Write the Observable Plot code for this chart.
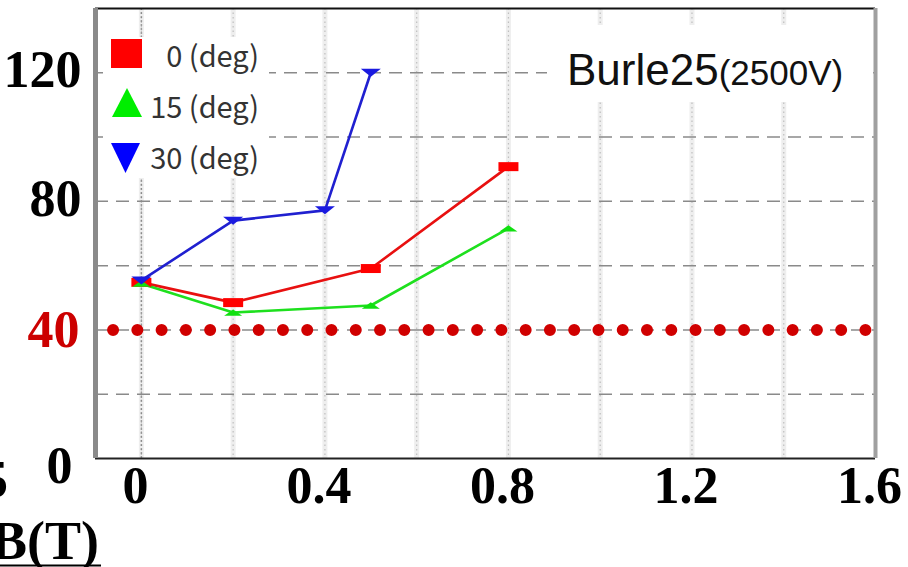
<!DOCTYPE html>
<html>
<head>
<meta charset="utf-8">
<script src="https://cdn.jsdelivr.net/npm/d3@7"></script>
<script src="https://cdn.jsdelivr.net/npm/@observablehq/plot@0.6"></script>
<style>
  html, body { margin: 0; padding: 0; background: #fff; }
  #chart { width: 908px; height: 567px; overflow: hidden; }
</style>
</head>
<body>
<div id="chart"></div>
<script>
// ---- data ----
const bField0 = [0, 0.2, 0.5, 0.8];
const gain0 = [54.8, 48.5, 59.1, 90.8];
const bField15 = [0, 0.2, 0.5, 0.8];
const gain15 = [54.4, 45.4, 47.6, 71.6];
const bField30 = [0, 0.2, 0.4, 0.5];
const gain30 = [55.4, 74.0, 77.2, 120];
const seriesLabels = ["0 (deg)", "15 (deg)", "30 (deg)"];
const thresholdGain = [40];
const xTicks = [0, 0.4, 0.8, 1.2, 1.6];
const yTicksBlack = [80, 120];
const yTicksRed = [40];
const yTickZero = [0];
const xGrid = [0, 0.2, 0.4, 0.6, 0.8, 1.0, 1.2, 1.4];
const yGrid = [20, 40, 60, 80, 100, 120];
const annotation = "Burle25";
const annotationSub = "(2500V)";
const axisLabel = "B(T)";

const toRows = (xs, ys) => xs.map((b, i) => ({b, g: ys[i]}));
const rows0 = toRows(bField0, gain0);
const rows15 = toRows(bField15, gain15);
const rows30 = toRows(bField30, gain30);

// flat marker symbols
const flatSquare = {draw(ctx, size) { const r = Math.sqrt(size / Math.PI); ctx.rect(-r, -0.45 * r, 2 * r, 0.9 * r); }};
const flatUp = {draw(ctx, size) { const r = Math.sqrt(size / Math.PI); ctx.moveTo(-r, 0.35 * r); ctx.lineTo(r, 0.35 * r); ctx.lineTo(0, -0.35 * r); ctx.closePath(); }};
const flatDown = {draw(ctx, size) { const r = Math.sqrt(size / Math.PI); ctx.moveTo(-r, -0.4 * r); ctx.lineTo(r, -0.4 * r); ctx.lineTo(0, 0.4 * r); ctx.closePath(); }};

const serif = "'Liberation Serif', 'Times New Roman', serif";

const svg = Plot.plot({
  width: 908,
  height: 567,
  marginLeft: 95,
  marginRight: 33,
  marginTop: 8,
  marginBottom: 109,
  x: {domain: [-0.1, 1.6]},
  y: {domain: [0, 140]},
  style: {background: "white", overflow: "hidden"},
  marks: [
    // vertical grid (faint blurry dotted look)
    Plot.gridX(xGrid, {stroke: "#eeeeee", strokeOpacity: 1, strokeWidth: 5}),
    Plot.gridX(xGrid, {stroke: "#999", strokeOpacity: 0.55, strokeWidth: 1.2, strokeDasharray: "1.5,3"}),
    Plot.gridX([0], {stroke: "#666", strokeOpacity: 0.6, strokeWidth: 1.5, strokeDasharray: "2,2"}),
    // horizontal dashed grid
    Plot.gridY(yGrid, {stroke: "#8a8a8a", strokeOpacity: 1, strokeWidth: 1.5, strokeDasharray: "13,8"}),
    // frame
    Plot.ruleY([0], {stroke: "#222", strokeWidth: 2}),
    Plot.ruleY([140], {stroke: "#111", strokeWidth: 2}),
    Plot.ruleX([-0.1], {stroke: "#8a8a8a", strokeWidth: 5}),
    Plot.ruleX([1.6], {stroke: "#a0a0a0", strokeWidth: 4}),
    // threshold dotted line
    Plot.ruleY(thresholdGain, {stroke: "#d00000", strokeWidth: 12, strokeLinecap: "round",
      strokeDasharray: "0 24.27", strokeDashoffset: 6.2}),
    // series
    Plot.line(rows0, {x: "b", y: "g", stroke: "#e81010", strokeWidth: 2.6}),
    Plot.line(rows15, {x: "b", y: "g", stroke: "#1ee01e", strokeWidth: 2.6}),
    Plot.line(rows30, {x: "b", y: "g", stroke: "#2020d0", strokeWidth: 2.6}),
    Plot.dot(rows0, {x: "b", y: "g", symbol: flatSquare, r: 10, fill: "#ff0000", stroke: "none"}),
    Plot.dot(rows15, {x: "b", y: "g", symbol: flatUp, r: 9, fill: "#10e010", stroke: "none"}),
    Plot.dot(rows30, {x: "b", y: "g", symbol: flatDown, r: 10, fill: "#1a1ae0", stroke: "none"}),
    // axes
    Plot.axisX({ticks: xTicks, tickSize: 0, tickPadding: 8, dx: -6, tickFormat: d => String(d),
      fontSize: 52, fontWeight: "bold", fontFamily: serif, fill: "#000", label: null}),
    Plot.axisY({ticks: yTicksBlack, tickSize: 0, tickPadding: 14, dy: -2, tickFormat: d => String(d),
      fontSize: 52, fontWeight: "bold", fontFamily: serif, fill: "#000", label: null}),
    Plot.axisY({ticks: yTicksRed, tickSize: 0, tickPadding: 16, tickFormat: d => String(d),
      fontSize: 52, fontWeight: "bold", fontFamily: serif, fill: "#cc0000", label: null}),
    Plot.axisY({ticks: yTickZero, tickSize: 0, tickPadding: 23, dy: 8, tickFormat: d => String(d),
      fontSize: 52, fontWeight: "bold", fontFamily: serif, fill: "#000", label: null})
  ]
});

const s = d3.select(svg);

// legend
const lg = s.append("g");
lg.append("rect").attr("x", 103).attr("y", 37).attr("width", 166).attr("height", 141).attr("fill", "white");
lg.append("rect").attr("x", 111).attr("y", 39).attr("width", 31).attr("height", 29).attr("fill", "#ff0000");
lg.append("path").attr("d", "M112,117 L142,117 L127,88 Z").attr("fill", "#00ee00");
lg.append("path").attr("d", "M111,143 L140,143 L125.5,173 Z").attr("fill", "#0000ff");
const legendY = [67, 118, 169];
seriesLabels.forEach((t, i) => {
  lg.append("text").attr("x", 259).attr("y", legendY[i]).attr("text-anchor", "end")
    .attr("font-family", "'Noto Sans CJK JP', 'Noto Sans', sans-serif").attr("font-size", 29)
    .attr("fill", "#333").text(t);
});

// annotation box
const ab = s.append("g");
ab.append("rect").attr("x", 547).attr("y", 25).attr("width", 326).attr("height", 77).attr("fill", "white");
const at = ab.append("text").attr("x", 567).attr("y", 85).attr("text-anchor", "start")
  .attr("font-family", "'Liberation Sans', Arial, sans-serif").attr("fill", "#111");
at.append("tspan").attr("font-size", 44).text(annotation);
at.append("tspan").attr("font-size", 35).text(annotationSub);

// axis label B(T) (cropped at left) and cropped "5"
s.append("text").attr("x", -18).attr("y", 497).attr("text-anchor", "start").attr("font-family", serif)
  .attr("font-weight", "bold").attr("font-size", 52).attr("fill", "#000").text("5");
s.append("text").attr("x", 99).attr("y", 559).attr("text-anchor", "end").attr("font-family", serif)
  .attr("font-weight", "bold").attr("font-size", 54).attr("fill", "#000").text(axisLabel);
s.append("line").attr("x1", 0).attr("x2", 101).attr("y1", 565.5).attr("y2", 565.5)
  .attr("stroke", "#000").attr("stroke-width", 2);

document.getElementById("chart").appendChild(svg);
</script>
</body>
</html>
